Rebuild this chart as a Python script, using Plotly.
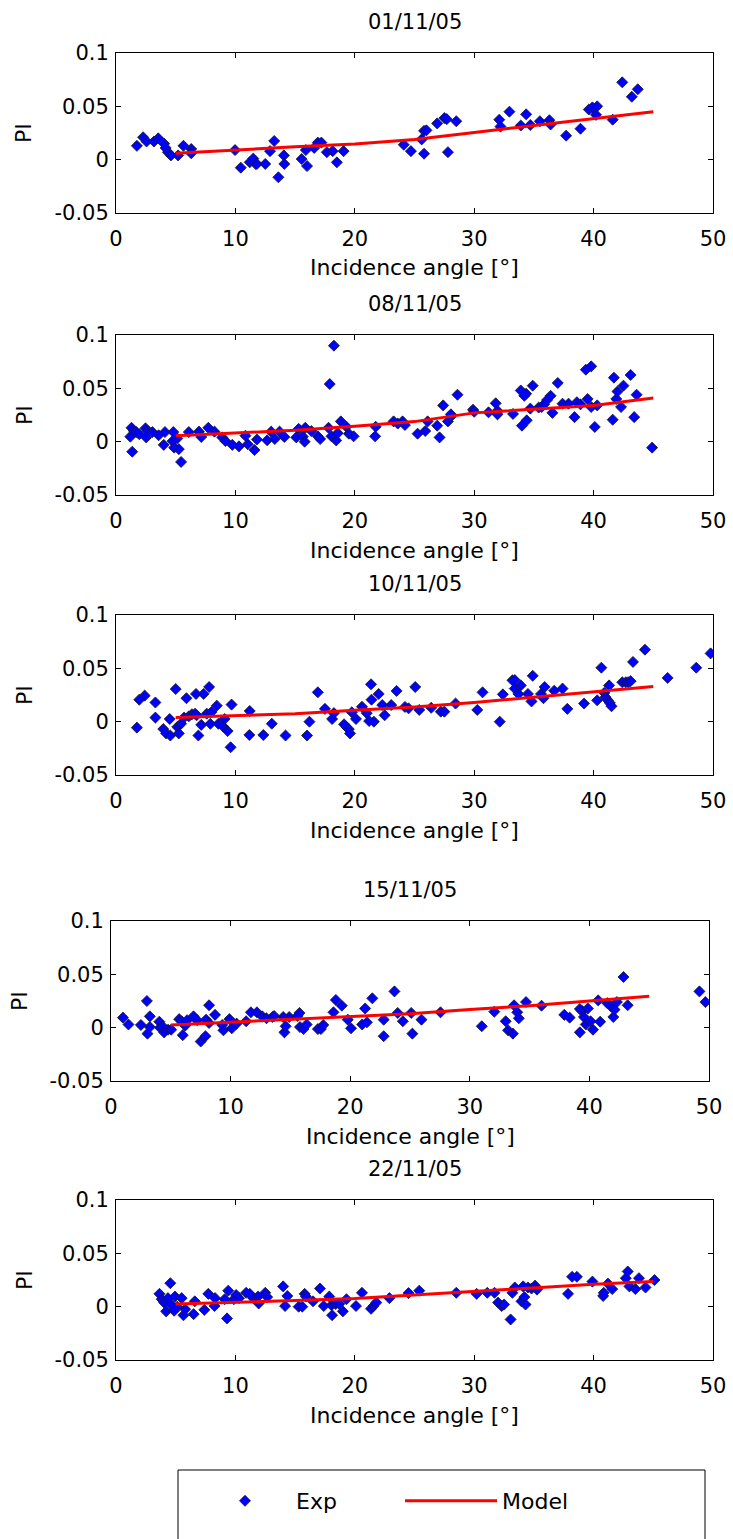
import plotly.graph_objects as go

# ---------------- data ----------------
titles = ["01/11/05", "08/11/05", "10/11/05", "15/11/05", "22/11/05"]

exp1_x = [1.75, 2.27, 2.56, 3.18, 3.54, 4.03, 4.16, 4.35, 4.6, 5.2, 5.65, 6.3, 6.3,
          9.97, 10.45, 11.2, 11.5, 11.7, 11.8, 12.5, 12.9, 13.25, 13.6, 14.06, 14.1,
          15.55, 15.9, 16.0, 16.6, 16.9, 17.2, 17.66, 18.15, 18.5, 19.06,
          24.1, 24.7, 25.6, 25.8, 26.0, 25.8, 26.9, 27.5, 27.7, 27.8, 28.5,
          32.1, 32.2, 32.95, 33.9, 34.35, 34.7, 35.5, 36.3, 36.4, 37.7, 38.9,
          39.6, 39.9, 40.3, 40.2, 41.6, 42.4, 43.2, 43.7]
exp1_y = [0.013, 0.021, 0.017, 0.017, 0.020, 0.015, 0.011, 0.007, 0.004, 0.004, 0.013, 0.010, 0.006,
          0.009, -0.0075, -0.0025, 0.001, -0.004, -0.004, -0.004, 0.008, 0.0175, -0.0165, 0.004, -0.004,
          0.0006, 0.009, -0.006, 0.011, 0.016, 0.016, 0.007, 0.008, -0.0025, 0.008,
          0.014, 0.008, 0.019, 0.027, 0.0275, 0.0056, 0.034, 0.039, 0.038, 0.007, 0.036,
          0.0375, 0.031, 0.045, 0.032, 0.0425, 0.0325, 0.036, 0.037, 0.033, 0.0225, 0.029,
          0.047, 0.049, 0.050, 0.042, 0.0375, 0.0725, 0.059, 0.066]

exp2_x = [1.2, 1.3, 1.36, 1.5, 1.7, 1.95, 2.47, 2.53, 2.66, 3.05, 3.57, 4.1, 4.0, 4.8, 4.74,
          4.87, 5.13, 5.26, 5.45, 6.1, 6.95, 7.14, 7.73, 8.25, 8.9, 9.16, 9.74, 10.3, 10.84,
          11.04, 11.6, 11.8, 12.66, 13.0, 13.3, 13.7, 14.1, 15.1, 15.3, 15.65, 15.8, 15.85,
          16.36, 16.9, 17.1, 17.8, 17.9, 18.05, 18.25, 18.44, 18.57, 18.83, 19.3, 19.5, 19.9,
          21.7, 21.75, 23.25, 23.6, 24.0, 24.2, 25.26, 25.9, 26.1, 26.9, 27.1, 27.4, 27.8,
          28.0, 28.05, 28.6, 29.9, 30.0, 31.2, 31.8, 31.95, 31.95, 33.25, 33.9, 34.0, 34.2,
          34.35, 34.4, 34.7, 34.9, 35.4, 35.65, 35.85, 36.1, 36.4, 36.55, 37.0, 37.4, 37.9,
          38.4, 38.6, 38.9, 39.35, 39.5, 39.8, 39.8, 40.1, 40.3, 41.6, 41.7, 41.9, 42.0,
          42.3, 42.5, 43.1, 43.4, 43.6, 44.9]
exp2_y = [0.0047, 0.013, -0.0094, 0.010, 0.009, 0.007, 0.0125, 0.004, 0.010, 0.009, 0.006, 0.009, -0.003, 0.009, 0.0006,
          -0.0056, 0.003, -0.007, -0.019, 0.009, 0.0094, 0.0044, 0.013, 0.0094, 0.004, 0.0006, -0.003, -0.0044, 0.0056,
          -0.0025, -0.0078, 0.002, 0.0013, 0.0094, 0.0025, 0.0094, 0.0044, 0.004, 0.012, 0.0047, 0.0, 0.013,
          0.010, 0.005, 0.0025, 0.013, 0.054, 0.005, 0.090, 0.0012, 0.008, 0.019, 0.014, 0.0075, 0.005,
          0.005, 0.014, 0.019, 0.017, 0.019, 0.0156, 0.0075, 0.010, 0.019, 0.015, 0.004, 0.034, 0.019,
          0.023, 0.0256, 0.044, 0.030, 0.028, 0.0275, 0.036, 0.029, 0.0256, 0.026, 0.048, 0.015, 0.043,
          0.045, 0.020, 0.031, 0.0525, 0.032, 0.0325, 0.035, 0.039, 0.043, 0.027, 0.055, 0.0356, 0.0356,
          0.023, 0.037, 0.035, 0.0675, 0.040, 0.0706, 0.0325, 0.0138, 0.034, 0.0206, 0.060, 0.040, 0.047,
          0.0325, 0.0525, 0.0625, 0.023, 0.044, -0.0056]

exp3_x = [1.75, 1.95, 2.4, 3.3, 3.3, 3.96, 4.2, 4.5, 4.55, 5.0, 5.13, 5.26, 5.45, 5.7, 5.9,
          6.1, 6.36, 6.62, 6.7, 6.75, 6.9, 7.14, 7.34, 7.6, 7.8, 7.9, 8.0, 8.44, 8.57, 8.96,
          9.1, 9.35, 9.6, 9.68, 11.2, 11.17, 12.34, 13.05, 14.2, 16.0, 16.2, 16.9, 17.5, 18.1,
          18.25, 19.1, 19.3, 19.5, 19.6, 19.75, 20.1, 20.6, 21.0, 21.2, 21.36, 21.4, 21.6, 22.0,
          22.3, 22.5, 23.05, 23.5, 24.2, 24.5, 25.06, 25.4, 26.4, 27.2, 27.5, 28.44, 30.26, 30.7,
          32.14, 32.4, 33.2, 33.4, 33.4, 33.7, 33.9, 34.5, 34.8, 34.9, 35.6, 35.8, 35.9, 36.7,
          37.4, 37.8, 39.2, 40.3, 40.65, 40.9, 41.0, 41.2, 41.3, 41.36, 41.5, 42.4, 42.7, 42.9,
          43.1, 43.3, 44.3, 46.2, 48.6, 49.8]
exp3_y = [-0.0056, 0.0206, 0.0244, 0.018, 0.0038, -0.0069, -0.011, 0.0025, -0.013, 0.0306, -0.005, -0.011, -0.0019, 0.0038, 0.022,
          0.005, 0.0069, 0.0075, 0.026, 0.006, -0.013, -0.003, 0.026, 0.0075, 0.0325, -0.002, 0.009, 0.015, -0.002, -0.0044,
          0.0025, -0.0088, -0.024, 0.016, 0.010, -0.0125, -0.0125, -0.0019, -0.013, -0.013, 0.0, 0.0275, 0.012, 0.0025,
          0.008, -0.0025, -0.005, -0.007, -0.011, 0.0088, 0.0025, 0.014, 0.008, 0.0006, 0.035, 0.0206, 0.0, 0.026,
          0.0156, 0.006, 0.0156, 0.0288, 0.0138, 0.0125, 0.0325, 0.011, 0.013, 0.0094, 0.0094, 0.017, 0.011, 0.0275,
          0.0, 0.0256, 0.0388, 0.039, 0.031, 0.026, 0.034, 0.026, 0.019, 0.043, 0.026, 0.022, 0.0325, 0.029,
          0.031, 0.012, 0.017, 0.020, 0.0506, 0.027, 0.023, 0.020, 0.034, 0.0175, 0.0144, 0.037, 0.037, 0.037,
          0.038, 0.056, 0.0675, 0.041, 0.0506, 0.064]

exp4_x = [1.0, 1.46, 2.5, 3.0, 3.05, 3.25, 3.25, 4.04, 4.1, 4.3, 4.44, 4.77, 5.03, 5.7, 5.9,
          6.0, 6.2, 6.36, 6.9, 7.2, 7.5, 7.9, 7.95, 8.2, 8.2, 8.7, 9.3, 9.4, 9.9, 10.1, 10.5,
          11.3, 11.7, 12.2, 12.65, 13.0, 13.5, 13.64, 14.4, 14.5, 14.6, 14.9, 15.6, 15.76, 15.8,
          16.1, 16.36, 17.3, 17.55, 17.75, 18.6, 18.8, 19.3, 19.8, 20.07, 21.0, 21.25, 21.4,
          21.85, 22.8, 22.8, 23.7, 23.97, 24.4, 25.1, 25.2, 25.96, 27.55, 31.0, 32.05, 33.0,
          33.2, 33.6, 33.7, 33.97, 34.1, 34.7, 36.0, 37.9, 38.35, 39.2, 39.2, 39.4, 39.54, 39.7,
          39.87, 40.1, 40.3, 40.9, 40.73, 41.5, 41.8, 42.0, 42.1, 42.3, 42.85, 43.2, 49.2, 49.7]
exp4_y = [0.0094, 0.003, 0.0025, 0.025, -0.0056, 0.0106, 0.0006, 0.0056, 0.0, 0.0013, -0.0044, -0.0019, -0.0019, 0.008, 0.006,
          -0.007, 0.0019, 0.007, 0.0106, 0.007, -0.013, -0.008, 0.0075, 0.0044, 0.021, 0.012, 0.0025, -0.0025, 0.008, -0.0006, 0.0038,
          0.006, 0.0144, 0.0144, 0.0106, 0.0088, 0.010, 0.011, 0.010, -0.0044, 0.0013, 0.010, 0.011, 0.0138, 0.0006,
          -0.0013, 0.003, -0.0013, -0.0013, 0.0025, 0.0144, 0.026, 0.0206, 0.0075, -0.0006, 0.003, 0.018, 0.005,
          0.0275, 0.0075, -0.008, 0.034, 0.0138, 0.006, 0.0138, -0.0056, 0.0075, 0.0144, 0.0013, 0.015, 0.006,
          -0.0025, -0.0056, 0.021, 0.0144, 0.0088, 0.024, 0.0206, 0.012, 0.0094, 0.0175, -0.0044, 0.0156, 0.010, 0.003,
          0.018, 0.006, -0.0019, 0.0056, 0.0256, 0.023, 0.020, 0.010, 0.0169, 0.024, 0.0475, 0.021, 0.034, 0.024]

exp5_x = [3.64, 3.83, 4.03, 4.2, 4.35, 4.55, 4.6, 4.87, 4.94, 5.13, 5.5, 5.65, 5.8, 6.5, 6.6,
          7.4, 7.73, 8.25, 8.3, 9.1, 9.3, 9.4, 9.87, 10.06, 10.3, 10.9, 11.2, 11.5, 11.9, 11.95,
          12.5, 12.66, 14.0, 14.16, 14.35, 15.3, 15.6, 15.8, 15.9, 16.5, 17.08, 17.4, 17.86, 18.05,
          18.1, 18.4, 18.7, 19.0, 19.3, 20.1, 20.6, 21.36, 21.56, 21.8, 22.9, 24.5, 25.4, 28.5,
          30.2, 31.1, 31.7, 32.0, 32.3, 32.5, 33.05, 33.2, 33.4, 33.96, 34.1, 34.2, 34.3, 34.5,
          34.8, 35.1, 35.26, 37.86, 38.2, 38.6, 39.9, 40.8, 40.85, 41.2, 41.56, 42.7, 42.86, 43.0,
          43.5, 43.8, 44.35, 45.1]
exp5_y = [0.012, 0.007, 0.0038, -0.0044, 0.008, 0.022, 0.002, -0.0038, 0.0095, 0.0, 0.008, -0.008, -0.0025, -0.007, 0.005,
          -0.003, 0.012, 0.0006, 0.008, 0.007, -0.011, 0.015, 0.007, 0.011, 0.008, 0.013, 0.012, 0.008, 0.0095, 0.003,
          0.013, 0.009, 0.019, 0.0006, 0.010, 0.0, 0.0, 0.012, 0.0095, 0.005, 0.017, 0.0006, 0.0095, 0.0013,
          -0.008, 0.0025, 0.0025, -0.0044, 0.007, 0.0006, 0.013, -0.002, 0.0006, 0.0038, 0.008, 0.0127, 0.015, 0.013,
          0.012, 0.013, 0.013, 0.0038, 0.0006, 0.002, -0.012, 0.013, 0.018, 0.005, 0.019, 0.009, 0.002, 0.018,
          0.017, 0.0197, 0.016, 0.012, 0.028, 0.028, 0.0235, 0.010, 0.013, 0.0216, 0.0165, 0.0267, 0.033, 0.019,
          0.0165, 0.0267, 0.018, 0.025]

model_x = [5, 10, 15, 20, 25, 30, 35, 40, 45]
model1_y = [0.0060, 0.0093, 0.0120, 0.0148, 0.0190, 0.0255, 0.0320, 0.0388, 0.0450]
model2_y = [0.0056, 0.0078, 0.0106, 0.0144, 0.0188, 0.0270, 0.0306, 0.0340, 0.0410]
model3_y = [0.0038, 0.0053, 0.0075, 0.0106, 0.0138, 0.0180, 0.0230, 0.0280, 0.0330]
model4_y = [0.0025, 0.0050, 0.0075, 0.0100, 0.0130, 0.0170, 0.0206, 0.0250, 0.0294]
model5_y = [0.0025, 0.0038, 0.0057, 0.0076, 0.0110, 0.0140, 0.0178, 0.0210, 0.0235]

x_ticks = [0, 10, 20, 30, 40, 50]
y_ticks = [-0.05, 0, 0.05, 0.1]
y_ticklabels = ["-0.05", "0", "0.05", "0.1"]
x_label = "Incidence angle [°]"
y_label = "PI"

exp_x = [exp1_x, exp2_x, exp3_x, exp4_x, exp5_x]
exp_y = [exp1_y, exp2_y, exp3_y, exp4_y, exp5_y]
model_y = [model1_y, model2_y, model3_y, model4_y, model5_y]

# ---------------- layout geometry (pixels) ----------------
W, H = 733, 1539
panels_px = [  # left, right, top, bottom
    (116, 713, 53, 213),
    (116, 713, 335, 495),
    (116, 713, 615, 775),
    (111, 709, 921, 1081),
    (116, 713, 1200, 1360),
]

FONT = "DejaVu Sans"
fig = go.Figure()
annotations = []
layout_axes = {}

for i in range(5):
    n = i + 1
    xa = "x" if n == 1 else f"x{n}"
    ya = "y" if n == 1 else f"y{n}"
    l, r, t, b = panels_px[i]
    fig.add_trace(go.Scatter(
        x=exp_x[i], y=exp_y[i], mode="markers", name="Exp",
        marker=dict(symbol="diamond", size=8.5, color="#0000ff",
                    line=dict(color="#1a1a1a", width=0.8)),
        xaxis=xa, yaxis=ya, showlegend=(i == 0), legend="legend",
    ))
    fig.add_trace(go.Scatter(
        x=model_x, y=model_y[i], mode="lines", name="Model",
        line=dict(color="#ff0000", width=3),
        xaxis=xa, yaxis=ya, showlegend=(i == 0), legend="legend2",
    ))
    axcommon = dict(showline=True, linecolor="black", linewidth=1, mirror="ticks",
                    ticks="inside", ticklen=5, tickcolor="black", showgrid=False,
                    zeroline=False, automargin=False,
                    tickfont=dict(family=FONT, size=21, color="black"))
    layout_axes["xaxis" if n == 1 else f"xaxis{n}"] = dict(
        domain=[l / W, r / W], anchor=ya, range=[0, 50], tickvals=x_ticks,
        ticktext=[str(v) for v in x_ticks], ticklabelstandoff=7, **axcommon)
    layout_axes["yaxis" if n == 1 else f"yaxis{n}"] = dict(
        domain=[1 - b / H, 1 - t / H], anchor=xa, range=[-0.05, 0.1],
        tickvals=y_ticks, ticktext=y_ticklabels, ticklabelstandoff=2, **axcommon)
    dom_x = f"{xa} domain"
    dom_y = f"{ya} domain"
    annotations.append(dict(text=titles[i], xref=dom_x, yref=dom_y, x=0.5, y=1,
                            xanchor="center", yanchor="middle", yshift=31, showarrow=False,
                            font=dict(family=FONT, size=21, color="black")))
    annotations.append(dict(text=x_label, xref=dom_x, yref=dom_y, x=0.5, y=0,
                            xanchor="center", yanchor="middle", yshift=-55, showarrow=False,
                            font=dict(family=FONT, size=22, color="black")))
    annotations.append(dict(text=y_label, xref=dom_x, yref=dom_y, x=0, y=0.5,
                            xanchor="center", yanchor="middle", xshift=-92, textangle=-90,
                            showarrow=False, font=dict(family=FONT, size=22, color="black")))

legend_common = dict(orientation="h", yanchor="middle", y=1 - 1501 / H, xanchor="left",
                     bgcolor="rgba(0,0,0,0)", borderwidth=0, itemwidth=92,
                     font=dict(family=FONT, size=22, color="black"))

fig.update_layout(
    width=W, height=H,
    margin=dict(l=0, r=0, t=0, b=0, pad=0, autoexpand=False),
    paper_bgcolor="white", plot_bgcolor="white",
    annotations=annotations,
    legend=dict(x=194 / W, **legend_common),
    legend2=dict(x=400 / W, **legend_common),
    shapes=[dict(type="rect", xref="paper", yref="paper",
                 x0=178 / W, x1=705 / W, y0=-0.05, y1=1 - 1470 / H,
                 line=dict(color="black", width=1), fillcolor="rgba(0,0,0,0)")],
    **layout_axes,
)

fig.write_html("out.html")
